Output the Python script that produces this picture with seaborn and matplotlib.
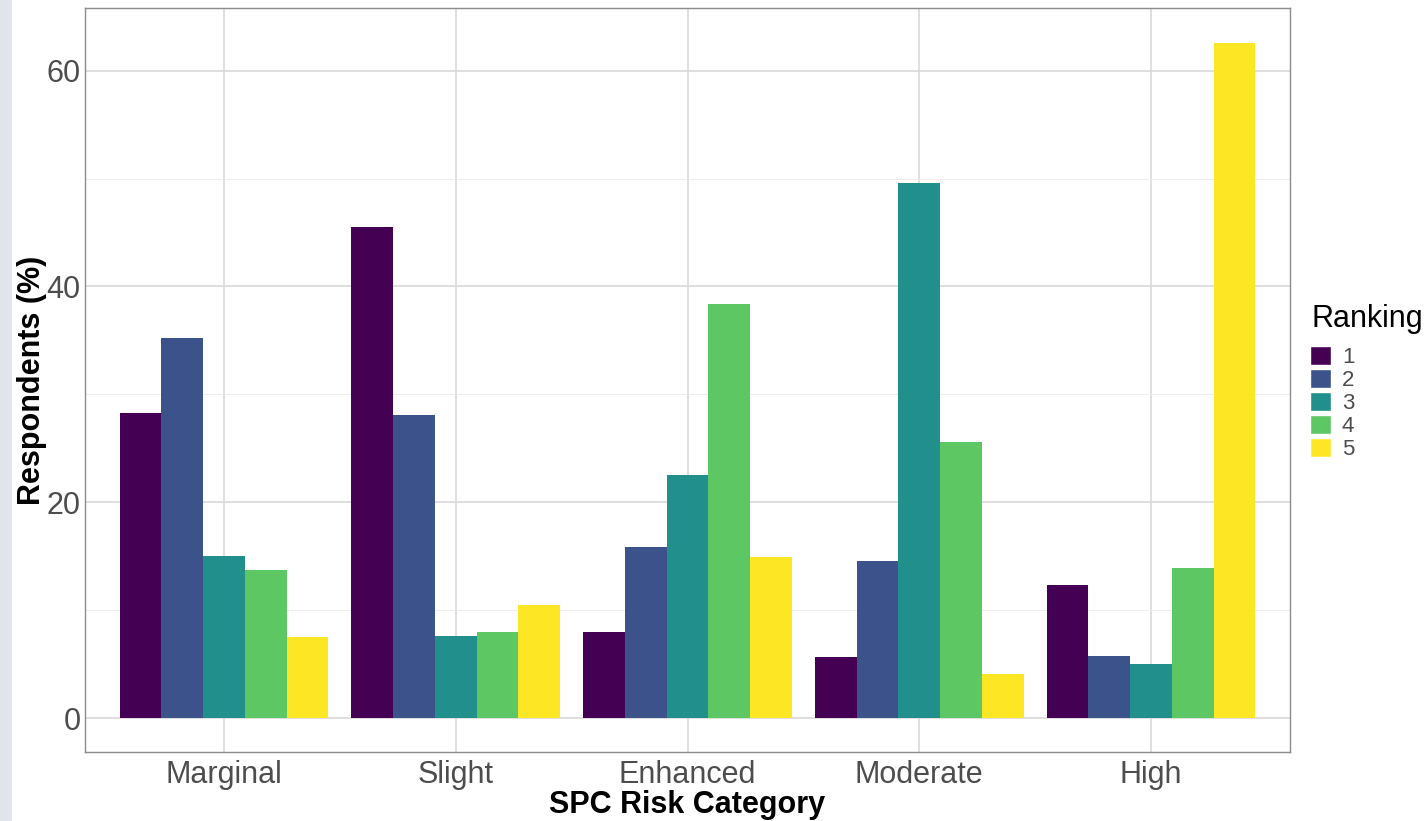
import pandas as pd
import numpy as np
import matplotlib.pyplot as plt
import seaborn as sns
from matplotlib.ticker import MultipleLocator
from matplotlib.patches import Patch, Rectangle

# data
categories = ['Marginal', 'Slight', 'Enhanced', 'Moderate', 'High']
rankings = ['1', '2', '3', '4', '5']
rank1 = [28.3, 45.5, 8.0, 5.7, 12.3]
rank2 = [35.2, 28.1, 15.9, 14.6, 5.8]
rank3 = [15.0, 7.6, 22.5, 49.6, 5.0]
rank4 = [13.7, 8.0, 38.4, 25.6, 13.9]
rank5 = [7.5, 10.5, 14.9, 4.1, 62.6]
colors = ['#440154', '#3B528B', '#21908C', '#5DC863', '#FDE725']

rows = []
for r, vals in zip(rankings, [rank1, rank2, rank3, rank4, rank5]):
    for c, v in zip(categories, vals):
        rows.append({'Category': c, 'Ranking': r, 'Pct': v})
df = pd.DataFrame(rows)

sns.set_style('white')
plt.rcParams['font.family'] = ['Liberation Sans', 'DejaVu Sans']

fig = plt.figure(figsize=(14.25, 8.21), dpi=100)
ax = fig.add_axes([85 / 1425, 69 / 821, 1205 / 1425, 744 / 821])

# screenshot edge strip on the left
fig.patches.append(Rectangle((0, 0), 12 / 1425, 1, transform=fig.transFigure,
                             facecolor='#E1E4E8', edgecolor='none', zorder=-1))

sns.barplot(data=df, x='Category', y='Pct', hue='Ranking', order=categories,
            hue_order=rankings, palette=colors, width=0.9, saturation=1,
            linewidth=0, errorbar=None, legend=False, ax=ax)

ax.set_xlim(-0.6, 4.6)
ax.set_ylim(-3.13, 65.8)
ax.yaxis.set_major_locator(MultipleLocator(20))
ax.yaxis.set_minor_locator(MultipleLocator(10))
ax.set_axisbelow(True)
ax.grid(which='major', axis='both', color='#D6D6D6', linewidth=1.1)
ax.grid(which='minor', axis='y', color='#EBEBEB', linewidth=0.6)
for s in ax.spines.values():
    s.set_color('#8C8C8C')
    s.set_linewidth(1.0)

ax.tick_params(axis='both', which='both', length=0, labelsize=22,
               labelcolor='#4D4D4D', pad=3)
ax.tick_params(axis='x', pad=6)
ax.set_xlabel('SPC Risk Category', fontsize=22, fontweight='bold',
              color='black', labelpad=0)
ax.set_ylabel('Respondents (%)', fontsize=22, fontweight='bold',
              color='black', labelpad=0)

# legend: title as separate text, keys below it
fig.text(1311 / 1425, 1 - 327 / 821, 'Ranking', fontsize=22,
         color='black', ha='left', va='baseline')
handles = [Patch(facecolor=c, edgecolor='white', label=r)
           for c, r in zip(colors, rankings)]
leg = fig.legend(handles=handles, loc='upper left',
                 bbox_to_anchor=(1294 / 1425, 1 - 330 / 821), frameon=False,
                 fontsize=16, handlelength=0.95, handleheight=1.0,
                 handletextpad=0.5, labelspacing=0.02, borderpad=0.2)
for t in leg.get_texts():
    t.set_color('#4D4D4D')

fig.savefig('out.png', dpi=100)
